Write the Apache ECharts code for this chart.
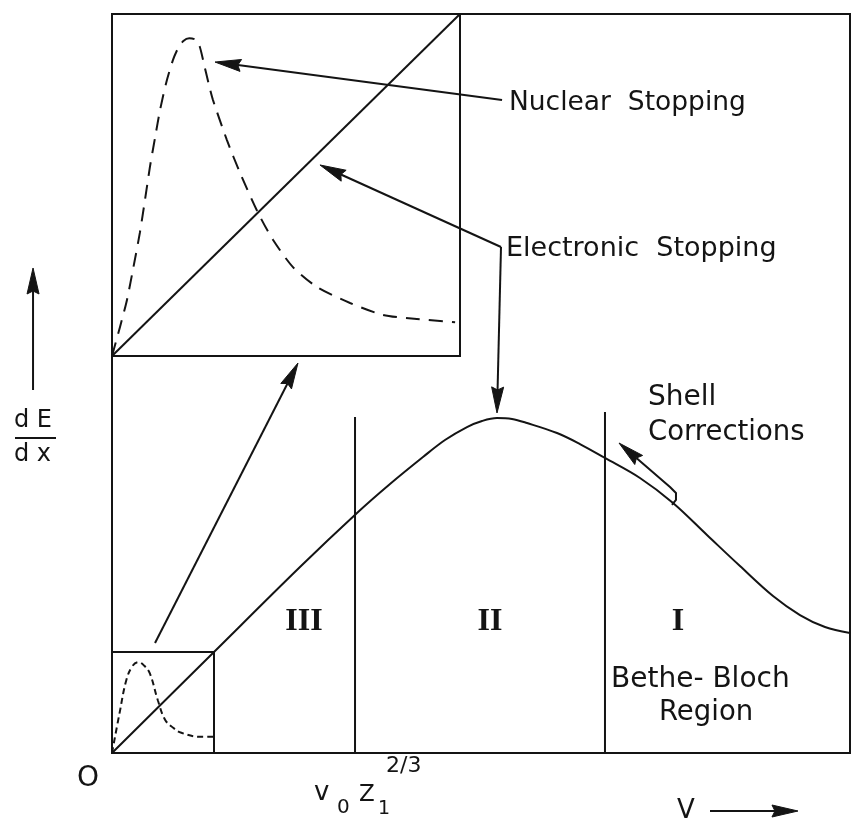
<!DOCTYPE html>
<html>
<head>
<meta charset="utf-8">
<title>Stopping power regimes</title>
<script src="https://cdn.jsdelivr.net/npm/echarts@6/dist/echarts.min.js"></script>
<style>
  html, body { margin: 0; padding: 0; background: #ffffff; }
  #chart { width: 853px; height: 823px; }
</style>
</head>
<body>
<div id="chart"></div>
<script>
// Electronic stopping dE/dx against projectile velocity v (schematic units 0..10)
const vElectronic = [0, 1.382, 2.547, 3.320, 3.767, 4.214, 4.512, 4.810, 5.014, 5.217, 5.420, 5.623, 6.030, 6.341, 6.680, 7.154, 7.602, 8.062, 8.509, 8.957, 9.322, 9.661, 10];
const dEdxElectronic = [0, 1.367, 2.517, 3.248, 3.640, 4.005, 4.235, 4.411, 4.493, 4.533, 4.520, 4.465, 4.330, 4.181, 3.992, 3.721, 3.383, 2.950, 2.530, 2.124, 1.867, 1.705, 1.624];

// Low-velocity window, enlarged (normalised 0..1 on both axes)
const vZoomElectronic = [0, 1];
const dEdxZoomElectronic = [0, 1];
const vNuclearZoom = [0, 0.023, 0.043, 0.062, 0.080, 0.095, 0.109, 0.124, 0.138, 0.156, 0.175, 0.190, 0.205, 0.222, 0.240, 0.252, 0.264, 0.278, 0.290, 0.330, 0.368, 0.420, 0.463, 0.520, 0.589, 0.684, 0.779, 0.876, 0.986];
const dEdxNuclearZoom = [0, 0.085, 0.164, 0.262, 0.360, 0.458, 0.553, 0.640, 0.719, 0.800, 0.865, 0.900, 0.921, 0.929, 0.925, 0.905, 0.855, 0.795, 0.749, 0.632, 0.535, 0.418, 0.339, 0.260, 0.202, 0.155, 0.120, 0.108, 0.099];

// Same window at its true size near the origin (normalised 0..1)
const vNuclearLow = [0, 0.075, 0.14, 0.20, 0.26, 0.31, 0.37, 0.45, 0.52, 0.60, 0.68, 0.87, 1.0];
const dEdxNuclearLow = [0, 0.40, 0.72, 0.86, 0.90, 0.87, 0.79, 0.52, 0.33, 0.25, 0.20, 0.16, 0.16];

// Region boundaries (III | II | I) and the height of each boundary line
const regionEdges = [3.293, 6.680];
const regionEdgeTops = [4.547, 4.614];
const regionNames = ['III', 'II', 'I'];

// Annotation arrows, as polylines in main-plot units; the last point is the arrow tip
const arrowNuclear = [[5.285, 8.836], [1.396, 9.350]];
const arrowElectronicInset = [[5.271, 6.847], [2.818, 7.957]];
const arrowElectronicMain = [[5.271, 6.847], [5.217, 4.601]];
const arrowMagnify = [[0.583, 1.488], [2.520, 5.277]];
const arrowShell = [[7.588, 3.356], [7.642, 3.424], [7.642, 3.518], [7.561, 3.599], [6.870, 4.195]];
const arrowYAxis = [[-1.070, 4.912], [-1.070, 6.563]];
const arrowXAxis = [[8.103, -0.785], [9.295, -0.785]];

const INK = '#141414';
const SANS = '"DejaVu Sans", sans-serif';
const SERIF = '"Liberation Serif", "DejaVu Serif", serif';

const zip = (xs, ys) => xs.map((x, i) => [x, ys[i]]);
const arrows = [arrowNuclear, arrowElectronicInset, arrowElectronicMain, arrowMagnify, arrowShell, arrowYAxis, arrowXAxis];

function renderArrow(params, api) {
  const pts = arrows[params.dataIndex].map(p => api.coord(p));
  const tip = pts[pts.length - 1];
  const prev = pts[pts.length - 2];
  const dx = tip[0] - prev[0], dy = tip[1] - prev[1];
  const len = Math.hypot(dx, dy) || 1;
  const ux = dx / len, uy = dy / len;
  const nx = -uy, ny = ux;
  const headLen = 26, headHalf = 6, notch = 3;
  const base = [tip[0] - ux * headLen, tip[1] - uy * headLen];
  const shaft = pts.slice(0, -1).concat([[base[0] + ux * notch, base[1] + uy * notch]]);
  return {
    type: 'group',
    children: [
      { type: 'polyline', shape: { points: shaft, smooth: 0 },
        style: { stroke: INK, lineWidth: 2, fill: null, lineJoin: 'round' } },
      { type: 'polygon', shape: { points: [
          tip,
          [base[0] + nx * headHalf, base[1] + ny * headHalf],
          [base[0] + ux * notch, base[1] + uy * notch],
          [base[0] - nx * headHalf, base[1] - ny * headHalf]
        ] },
        style: { fill: INK, stroke: INK, lineWidth: 1 } }
    ]
  };
}

function label(text, x, y, size, opts) {
  const o = opts || {};
  return {
    type: 'text', z: 10,
    style: {
      text: text, x: x, y: y,
      font: (o.weight || 'normal') + ' ' + size + 'px ' + (o.family || SANS),
      fill: INK,
      textAlign: o.align || 'left',
      textVerticalAlign: 'middle'
    }
  };
}

const chart = echarts.init(document.getElementById('chart'), null, { renderer: 'canvas' });

const hiddenAxis = (grid, max) => ({ type: 'value', gridIndex: grid, min: 0, max: max, show: false });

const option = {
  backgroundColor: '#ffffff',
  animation: false,
  grid: [
    { left: 112, top: 14, width: 738, height: 739, show: true, borderColor: INK, borderWidth: 2 },
    { left: 112, top: 14, width: 348, height: 342, show: true, borderColor: INK, borderWidth: 2 },
    { left: 112, top: 652, width: 102, height: 101, show: true, borderColor: INK, borderWidth: 2 }
  ],
  xAxis: [hiddenAxis(0, 10), hiddenAxis(1, 1), hiddenAxis(2, 1)],
  yAxis: [hiddenAxis(0, 10), hiddenAxis(1, 1), hiddenAxis(2, 1)],
  series: [
    {
      name: 'Electronic stopping', type: 'line', xAxisIndex: 0, yAxisIndex: 0,
      data: zip(vElectronic, dEdxElectronic), smooth: 0.35, symbol: 'none',
      lineStyle: { color: INK, width: 2 }
    },
    ...regionEdges.map((x, i) => ({
      name: 'Region boundary ' + (i + 1), type: 'line', xAxisIndex: 0, yAxisIndex: 0,
      data: [[x, 0], [x, regionEdgeTops[i]]], symbol: 'none',
      lineStyle: { color: INK, width: 2 }
    })),
    {
      name: 'Electronic stopping (enlarged)', type: 'line', xAxisIndex: 1, yAxisIndex: 1,
      data: zip(vZoomElectronic, dEdxZoomElectronic), symbol: 'none',
      lineStyle: { color: INK, width: 2 }
    },
    {
      name: 'Nuclear stopping (enlarged)', type: 'line', xAxisIndex: 1, yAxisIndex: 1,
      data: zip(vNuclearZoom, dEdxNuclearZoom), smooth: 0.25, symbol: 'none',
      lineStyle: { color: INK, width: 2, type: [14, 9] }
    },
    {
      name: 'Nuclear stopping', type: 'line', xAxisIndex: 2, yAxisIndex: 2,
      data: zip(vNuclearLow, dEdxNuclearLow), smooth: 0.4, symbol: 'none',
      lineStyle: { color: INK, width: 2, type: [6, 4] }
    },
    {
      name: 'Annotations', type: 'custom', xAxisIndex: 0, yAxisIndex: 0,
      clip: false, silent: true,
      data: arrows.map(a => a[a.length - 1]),
      renderItem: renderArrow
    }
  ],
  graphic: [
    label('Nuclear  Stopping', 509, 103, 26.5),
    label('Electronic  Stopping', 506, 249, 27),
    label('Shell', 648, 398, 28),
    label('Corrections', 648, 433, 27.5),
    label('Bethe- Bloch', 611, 680, 28),
    label('Region', 659, 713, 27.5),
    label(regionNames[0], 304, 622, 32, { family: SERIF, align: 'center', weight: 'bold' }),
    label(regionNames[1], 490, 622, 32, { family: SERIF, align: 'center', weight: 'bold' }),
    label(regionNames[2], 678, 622, 32, { family: SERIF, align: 'center', weight: 'bold' }),
    label('d E', 14, 421, 24),
    label('d x', 14, 455, 24),
    { type: 'line', shape: { x1: 15, y1: 438, x2: 56, y2: 438 }, style: { stroke: INK, lineWidth: 2 } },
    label('O', 88, 779, 28, { align: 'center' }),
    label('v', 314, 793, 26),
    label('0', 337, 808, 20),
    label('Z', 359, 795, 23),
    label('1', 378, 809, 19),
    label('2/3', 386, 766, 22),
    label('V', 677, 811, 26)
  ]
};

chart.setOption(option);
</script>
</body>
</html>
